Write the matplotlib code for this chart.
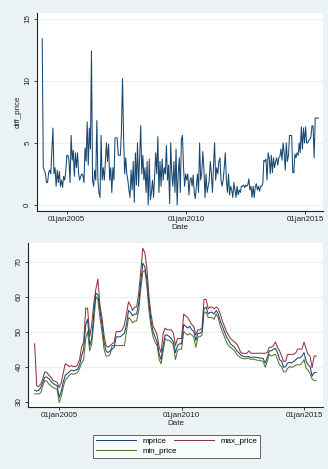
import numpy as np
import pandas as pd
import matplotlib
matplotlib.use('Agg')
import matplotlib.pyplot as plt

plt.rcParams['font.family'] = ['Liberation Sans', 'DejaVu Sans']

# high-low spread, roughly two readings per month
diff_price = [
    13.4, 3.0, 2.8, 2.5, 1.8, 1.8, 2.6, 2.8, 2.5, 4.3, 6.2, 2.5, 3.0, 1.5, 2.8, 1.8,
    2.7, 1.5, 2.0, 1.4, 2.3, 2.0, 2.7, 4.0, 4.0, 3.6, 1.8, 5.6, 3.6, 4.4, 2.3, 4.2,
    3.0, 4.2, 2.5, 2.0, 2.3, 2.5, 2.4, 1.8, 4.6, 3.5, 6.7, 3.2, 6.2, 4.5, 12.4, 2.0,
    1.5, 2.8, 2.0, 6.8, 2.0, 1.0, 0.6, 5.6, 2.0, 3.0, 2.0, 3.5, 5.0, 3.5, 4.9, 2.0,
    3.0, 1.0, 3.0, 2.0, 5.4, 5.4, 5.4, 4.0, 4.0, 4.0, 6.0, 10.2, 5.5, 2.5, 3.8, 2.5,
    2.0, 1.2, 0.6, 2.8, 1.2, 3.5, 0.2, 4.2, 1.6, 5.0, 1.5, 3.8, 6.4, 2.5, 4.0, 2.0,
    3.0, 1.0, 3.5, 0.0, 3.7, 0.4, 1.0, 2.0, 0.6, 2.3, 4.2, 2.5, 5.5, 1.0, 3.5, 1.5,
    3.7, 2.0, 3.0, 2.5, 4.8, 2.0, 3.2, 0.1, 5.0, 2.5, 1.5, 3.5, 1.0, 4.5, 0.0, 2.5,
    3.8, 1.0, 5.3, 5.6, 3.0, 1.5, 2.5, 2.0, 2.5, 0.8, 2.0, 2.2, 1.5, 2.4, 1.0, 0.5,
    1.5, 2.5, 1.0, 5.0, 2.0, 2.5, 4.3, 3.0, 0.6, 2.5, 1.0, 1.5, 2.0, 3.5, 2.5, 1.0,
    3.2, 5.0, 2.0, 3.0, 2.5, 3.5, 3.8, 2.0, 1.5, 2.0, 3.0, 4.2, 2.0, 1.0, 2.5, 0.8,
    1.5, 1.2, 0.6, 1.8, 1.2, 0.6, 1.5, 0.8, 1.2, 1.0, 1.5, 1.5, 1.6, 1.4, 1.6, 1.5,
    1.6, 2.1, 1.2, 1.5, 0.6, 1.5, 0.6, 1.5, 1.7, 1.2, 1.5, 1.1, 1.5, 1.5, 1.7, 3.6,
    3.5, 3.7, 2.0, 4.2, 3.8, 2.5, 4.0, 2.6, 3.8, 3.0, 3.5, 3.8, 3.2, 3.8, 3.9, 4.5,
    3.6, 5.0, 4.2, 2.8, 5.0, 3.5, 4.0, 5.6, 5.6, 5.6, 2.6, 2.6, 4.1, 3.8, 4.2, 4.0,
    5.0, 4.2, 6.3, 4.5, 6.2, 5.0, 6.3, 5.0, 5.0, 5.2, 5.3, 5.5, 6.4, 6.3, 3.8, 7.0,
    7.0, 7.0, 7.0,
]

# monthly prices, Jan 2004 - Jul 2015
mprice = [
    33.3, 33.0, 33.2, 34.0, 35.5, 37.0, 37.0, 36.5, 35.8, 35.2, 34.8, 34.6,
    31.2, 33.0, 35.5, 37.5, 38.0, 38.5, 39.0, 38.8, 39.0, 39.2, 40.5, 43.0,
    45.0, 52.0, 53.5, 46.0, 48.0, 55.0, 61.0, 60.5, 56.0, 52.0, 47.0, 44.5,
    44.0, 44.5, 45.0, 45.5, 48.5, 48.5, 48.5, 49.0, 49.5, 52.0, 56.0, 55.5,
    54.5, 55.0, 55.0, 58.0, 64.0, 69.5, 68.5, 65.0, 58.0, 53.0, 50.0, 48.5,
    47.0, 43.5, 42.0, 46.0, 49.0, 49.0, 48.5, 48.0, 47.0, 44.0, 46.0, 46.5,
    46.5, 52.0, 51.5, 51.0, 51.5, 50.5, 50.0, 47.5, 49.5, 49.5, 50.0, 56.5,
    57.0, 55.0, 55.5, 55.5, 55.0, 56.0, 55.0, 53.0, 51.5, 50.0, 48.5, 47.5,
    46.5, 46.0, 45.5, 44.5, 44.0, 43.3, 43.0, 42.8, 42.8, 42.9, 42.6, 42.7,
    42.7, 42.6, 42.5, 42.4, 42.3, 41.0, 42.5, 44.5, 44.5, 45.0, 45.2, 44.0,
    42.0, 41.5, 39.8, 40.0, 41.0, 41.2, 41.0, 41.5, 42.0, 42.5, 42.5, 43.0,
    44.0, 41.5, 40.5, 40.0, 37.3, 38.3, 38.3,
]
max_price = [
    46.5, 34.5, 34.3, 35.0, 36.5, 38.5, 38.3, 37.5, 37.0, 36.0, 35.8, 35.5,
    34.0, 35.5, 38.0, 40.8, 40.5, 40.0, 40.3, 40.0, 40.0, 40.5, 42.0, 45.5,
    47.0, 56.7, 56.7, 48.5, 52.0, 58.0, 62.0, 65.0, 57.5, 54.0, 49.0, 46.0,
    45.5, 46.0, 46.5, 47.0, 50.0, 50.0, 50.0, 50.5, 52.0, 55.0, 58.5, 57.5,
    56.0, 57.0, 57.0, 61.0, 67.0, 73.8, 72.5, 68.0, 60.0, 55.0, 51.5, 50.5,
    49.0, 45.5, 44.0, 49.5, 51.0, 50.5, 50.5, 50.5, 49.5, 46.0, 48.0, 48.0,
    48.0, 55.0, 54.5, 54.0, 53.0, 52.0, 51.5, 49.0, 50.5, 50.5, 51.0, 59.2,
    59.2, 56.5, 57.0, 57.0, 56.5, 57.0, 56.5, 55.0, 53.0, 51.5, 50.0, 49.0,
    48.0, 47.5, 47.0, 46.5, 45.5, 44.0, 43.8, 43.8, 43.8, 44.5, 43.8, 43.8,
    43.8, 43.8, 43.8, 43.8, 43.8, 43.8, 44.0, 45.5, 45.5, 46.0, 47.0, 45.5,
    44.5, 43.0, 41.5, 41.5, 43.5, 43.5, 43.5, 43.5, 44.0, 45.0, 45.0, 45.0,
    47.0, 45.0, 43.5, 43.0, 39.7, 43.0, 43.0,
]
min_price = [
    32.2, 32.2, 32.2, 32.5, 34.5, 36.0, 35.8, 35.0, 34.5, 34.0, 33.8, 33.5,
    29.8, 31.5, 34.0, 36.2, 36.8, 37.5, 38.0, 37.8, 38.0, 38.3, 39.5, 41.0,
    42.0, 48.0, 50.0, 44.5, 46.5, 52.5, 60.0, 59.0, 54.0, 50.0, 45.0, 43.0,
    43.0, 43.5, 46.0, 46.0, 46.0, 46.0, 46.0, 46.0, 46.0, 50.0, 54.0, 53.5,
    52.5, 53.0, 53.0, 56.0, 62.0, 67.0, 67.5, 63.0, 56.0, 51.5, 48.5, 47.0,
    46.0, 42.0, 40.8, 44.5, 48.0, 47.5, 47.5, 47.0, 46.0, 42.0, 44.5, 45.0,
    45.0, 50.0, 49.5, 49.0, 49.5, 49.0, 48.5, 45.5, 48.5, 48.5, 49.0, 55.5,
    55.5, 54.0, 54.0, 54.0, 53.5, 55.0, 54.0, 51.5, 50.0, 48.5, 47.0, 46.0,
    45.5, 45.0, 44.5, 43.5, 43.0, 42.5, 42.3, 42.2, 42.3, 42.4, 42.0, 42.2,
    42.0, 41.8, 41.8, 41.6, 41.5, 39.8, 41.5, 43.5, 43.0, 43.3, 43.5, 42.0,
    40.5, 40.0, 38.5, 38.5, 39.5, 40.0, 39.8, 40.0, 40.5, 40.5, 40.5, 41.0,
    42.0, 39.5, 39.0, 38.0, 36.5, 36.0, 36.0,
]

tick_dates = ['2005-01-01', '2010-01-01', '2015-01-01']
tick_labels = ['01jan2005', '01jan2010', '01jan2015']

BG = '#EAF2F3'
NAVY = '#1a476f'
MAROON = '#90353b'
FOREST = '#55752f'
FS = 5.8

diff_dates = pd.date_range('2003-12-20', '2015-07-25', periods=len(diff_price))
month_dates = pd.date_range('2004-01-01', periods=len(mprice), freq='MS')


def style_axes(ax, yticks):
    """ Stata s2color look: white plot region, left/bottom axes only """
    ax.set_facecolor('white')
    for side in ['top', 'right']:
        ax.spines[side].set_visible(False)
    for side in ['left', 'bottom']:
        ax.spines[side].set_linewidth(0.8)
        ax.spines[side].set_color('#222222')
    ax.set_yticks(yticks)
    ax.set_yticklabels([str(v) for v in yticks], rotation=90, va='center',
                       fontsize=FS, color='#222222')
    ax.set_xticks(pd.to_datetime(tick_dates))
    ax.set_xticklabels(tick_labels, fontsize=FS, color='#222222')
    ax.tick_params(axis='both', length=2.5, width=0.6, pad=1.5, colors='#222222')
    ax.grid(axis='y', color=BG, linewidth=1.0)
    ax.set_axisbelow(True)
    ax.set_xlabel('Date', fontsize=FS, labelpad=0.5, color='#222222')


fig = plt.figure(figsize=(3.28, 4.69), dpi=100, facecolor=BG)

# top panel: price spread
ax1 = fig.add_axes([0.112, 0.551, 0.873, 0.422])
ax1.plot(diff_dates, diff_price, color=NAVY, lw=0.75)
style_axes(ax1, [0, 5, 10, 15])
ax1.set_ylim(-0.46, 15.5)
ax1.set_xlim(pd.Timestamp('2003-09-27'), pd.Timestamp('2015-10-04'))
ax1.set_ylabel('diff_price', fontsize=FS, labelpad=2, color='#222222')

# bottom panel: mean, max and min price
ax2 = fig.add_axes([0.0854, 0.133, 0.8996, 0.349])
l_max, = ax2.plot(month_dates, max_price, color=MAROON, lw=0.75, label='max_price')
l_min, = ax2.plot(month_dates, min_price, color=FOREST, lw=0.75, label='min_price')
l_mean, = ax2.plot(month_dates, mprice, color=NAVY, lw=0.75, label='mprice')
style_axes(ax2, [30, 40, 50, 60, 70])
ax2.set_ylim(28.57, 75.3)
ax2.set_xlim(pd.Timestamp('2003-09-24'), pd.Timestamp('2015-10-12'))

leg = fig.legend([l_mean, l_min, l_max], ['mprice', 'min_price', 'max_price'],
                 ncol=2, loc='center', mode='expand',
                 bbox_to_anchor=(93 / 328, 1 - 460.7 / 469, 167 / 328, 28.7 / 469),
                 fontsize=FS, frameon=True, fancybox=False, handlelength=5.0,
                 handletextpad=0.8, columnspacing=2.0, labelspacing=0.3,
                 borderpad=0.35, borderaxespad=0)
leg.get_frame().set_edgecolor('#222222')
leg.get_frame().set_linewidth(0.6)
leg.get_frame().set_facecolor('white')

fig.savefig('out.png', dpi=100, facecolor=BG)
